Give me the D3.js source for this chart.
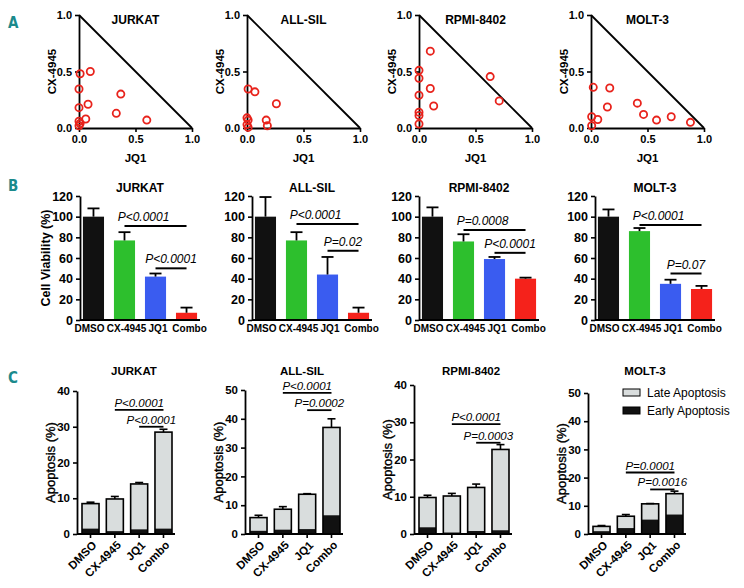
<!DOCTYPE html>
<html><head><meta charset="utf-8">
<script src="https://cdn.jsdelivr.net/npm/d3@7"></script>
<style>body{margin:0;background:#fff}</style>
</head><body><svg id="c" width="744" height="588"></svg>
<script>
// ---------------- DATA ----------------
const cellLines = ["JURKAT", "ALL-SIL", "RPMI-8402", "MOLT-3"];
const treatments = ["DMSO", "CX-4945", "JQ1", "Combo"];

// Panel A: normalized isobologram points [JQ1, CX-4945]
const jurkatIso = [[0.01,0.48],[0.10,0.50],[0.0,0.345],[0.37,0.30],[0.0,0.18],[0.08,0.21],[0.33,0.13],[0.60,0.07],[0.06,0.08],[0.0,0.06],[0.0,0.02],[0.01,0.04]];
const allsilIso = [[0.01,0.345],[0.07,0.32],[0.26,0.215],[0.17,0.07],[0.18,0.02],[0.0,0.09],[0.01,0.07],[0.0,0.03],[0.01,0.005]];
const rpmiIso   = [[0.10,0.68],[0.0,0.51],[0.0,0.44],[0.63,0.455],[0.71,0.24],[0.10,0.35],[0.13,0.195],[0.0,0.29],[0.0,0.14],[0.0,0.11],[0.0,0.035]];
const molt3Iso  = [[0.02,0.36],[0.166,0.354],[0.145,0.186],[0.41,0.22],[0.465,0.12],[0.58,0.07],[0.71,0.10],[0.88,0.05],[0.006,0.10],[0.06,0.075],[0.006,0.02]];
const isoTicks = [0, 0.5, 1.0];

// Panel B: cell viability (%) mean and SD
const jurkatViab = [100, 77, 42, 7];
const jurkatViabErr = [8, 8, 3, 5];
const allsilViab = [100, 77, 44, 7];
const allsilViabErr = [19, 8, 17, 5];
const rpmiViab = [100, 76, 59, 40];
const rpmiViabErr = [9, 7, 2, 1];
const molt3Viab = [100, 86, 35, 30];
const molt3ViabErr = [7, 3, 4, 3];
const viabTicks = [0, 20, 40, 60, 80, 100, 120];
const jurkatViabP = [["CX-4945","Combo","P<0.0001",91],["JQ1","Combo","P<0.0001",50]];
const allsilViabP = [["CX-4945","Combo","P<0.0001",93],["JQ1","Combo","P=0.02",67]];
const rpmiViabP   = [["CX-4945","Combo","P=0.0008",87],["JQ1","Combo","P<0.0001",65]];
const molt3ViabP  = [["CX-4945","Combo","P<0.0001",92],["JQ1","Combo","P=0.07",45]];

// Panel C: apoptosis (%) early, total (early+late), SD of total
const jurkatEarly = [1.5, 0.8, 1.3, 1.5];
const jurkatTotal = [8.5, 9.8, 14.0, 28.5];
const jurkatApoErr = [0.4, 0.7, 0.4, 0.8];
const allsilEarly = [1.1, 1.5, 1.7, 6.5];
const allsilTotal = [5.7, 8.6, 13.8, 37.0];
const allsilApoErr = [0.8, 0.9, 0.2, 3.0];
const rpmiEarly = [1.8, 0.4, 0.8, 1.0];
const rpmiTotal = [9.8, 10.2, 12.5, 22.7];
const rpmiApoErr = [0.6, 0.7, 0.9, 1.3];
const molt3Early = [1.0, 2.1, 5.1, 6.9];
const molt3Total = [2.7, 6.3, 10.7, 14.3];
const molt3ApoErr = [0.3, 0.6, 0.1, 0.9];
const jurkatApoP = [["CX-4945","Combo","P<0.0001",34.7],["JQ1","Combo","P<0.0001",30]];
const allsilApoP = [["CX-4945","Combo","P<0.0001",49],["JQ1","Combo","P=0.0002",43]];
const rpmiApoP   = [["CX-4945","Combo","P<0.0001",29.5],["JQ1","Combo","P=0.0003",24.5]];
const molt3ApoP  = [["CX-4945","Combo","P=0.0001",21.8],["JQ1","Combo","P=0.0016",15.8]];
const apoMax = [40, 50, 40, 50];
const legendLabels = ["Late Apoptosis", "Early Apoptosis"];

// ---------------- DRAW ----------------
const F = '"Liberation Sans", Arial, Helvetica, sans-serif';
const svg = d3.select("#c");
const barColors = ["#111111", "#2dbf2d", "#3a5cf0", "#f5221b"];
const lateColor = "#d9dddd", earlyColor = "#111111";
const bLabelShift = [-4, 2, 2.5, 3];

function styleAxis(g, fs) {
  g.select(".domain").attr("stroke", "#000").attr("stroke-width", 1.8);
  g.selectAll(".tick line").attr("stroke", "#000").attr("stroke-width", 1.6);
  g.selectAll(".tick text").attr("font-family", F).attr("font-weight", "bold")
    .attr("font-size", fs).attr("fill", "#000");
}
function label(txt, x, y, opts = {}) {
  const t = svg.append("text").attr("x", x).attr("y", y).text(txt)
    .attr("font-family", opts.family || F).attr("font-size", opts.size || 12)
    .attr("font-weight", opts.weight || "bold").attr("fill", opts.fill || "#000")
    .attr("text-anchor", opts.anchor || "middle");
  if (opts.italic) t.attr("font-style", "italic");
  if (opts.rotate) t.attr("transform", `rotate(${opts.rotate},${x},${y})`);
  return t;
}
// Panel letters
const letterOpts = { family: '"DejaVu Sans Condensed", "DejaVu Sans", sans-serif', size: 15, fill: "#1b8a8c", anchor: "start" };
label("A", 8, 28, letterOpts);
label("B", 8, 191, letterOpts);
label("C", 8, 383, letterOpts);

// ---- Panel A ----
const isoData = [jurkatIso, allsilIso, rpmiIso, molt3Iso];
const aX0 = [79, 247, 419, 591], aW = 113, aTop = 15, aBot = 128;
isoData.forEach((pts, i) => {
  const x = d3.scaleLinear().domain([0, 1]).range([aX0[i], aX0[i] + aW]);
  const y = d3.scaleLinear().domain([0, 1]).range([aBot, aTop]);
  const g = svg.append("g");
  g.append("line").attr("x1", x(0)).attr("y1", y(1)).attr("x2", x(1)).attr("y2", y(0))
    .attr("stroke", "#000").attr("stroke-width", 1.8);
  const gx = g.append("g").attr("transform", `translate(0,${aBot})`)
    .call(d3.axisBottom(x).tickValues(isoTicks).tickFormat(d3.format(".1f")).tickSize(4).tickSizeOuter(0));
  styleAxis(gx, 11);
  const gy = g.append("g").attr("transform", `translate(${aX0[i]},0)`)
    .call(d3.axisLeft(y).tickValues(isoTicks).tickFormat(d3.format(".1f")).tickSize(4).tickSizeOuter(0));
  styleAxis(gy, 11);
  g.selectAll("circle").data(pts).join("circle")
    .attr("cx", d => x(d[0])).attr("cy", d => y(d[1])).attr("r", 3.6)
    .attr("fill", "none").attr("stroke", "#e8231c").attr("stroke-width", 1.8);
  label(cellLines[i], x(0.5), 24, { size: 12 });
  label("JQ1", x(0.5), 162, { size: 11.5 });
  label("CX-4945", aX0[i] - 23, y(0.5), { size: 11.5, rotate: -90 });
});

// ---- Panel B ----
const viab = [jurkatViab, allsilViab, rpmiViab, molt3Viab];
const viabErr = [jurkatViabErr, allsilViabErr, rpmiViabErr, molt3ViabErr];
const viabP = [jurkatViabP, allsilViabP, rpmiViabP, molt3ViabP];
const bX0 = [80, 252, 419, 595], bTop = 196, bBot = 320;
viab.forEach((vals, i) => {
  const x = d3.scaleBand().domain(treatments).range([bX0[i] + 2, bX0[i] + 118]).paddingInner(0.32).paddingOuter(0.03);
  const y = d3.scaleLinear().domain([0, 120]).range([bBot, bTop]);
  const g = svg.append("g");
  const rows = treatments.map((t, j) => ({ t, v: vals[j], e: viabErr[i][j], c: barColors[j] }));
  g.selectAll("rect").data(rows).join("rect")
    .attr("x", d => x(d.t)).attr("width", x.bandwidth())
    .attr("y", d => y(d.v)).attr("height", d => y(0) - y(d.v)).attr("fill", d => d.c);
  const cap = 6;
  rows.forEach(d => {
    const cx = x(d.t) + x.bandwidth() / 2;
    g.append("line").attr("x1", cx).attr("x2", cx).attr("y1", y(d.v)).attr("y2", y(d.v + d.e)).attr("stroke", "#000").attr("stroke-width", 1.8);
    g.append("line").attr("x1", cx - cap).attr("x2", cx + cap).attr("y1", y(d.v + d.e)).attr("y2", y(d.v + d.e)).attr("stroke", "#000").attr("stroke-width", 1.8);
  });
  const gy = g.append("g").attr("transform", `translate(${bX0[i]},0)`)
    .call(d3.axisLeft(y).tickValues(viabTicks).tickSize(4).tickSizeOuter(0));
  styleAxis(gy, 12.5);
  const gx = g.append("g").attr("transform", `translate(0,${bBot})`)
    .call(d3.axisBottom(x).tickSize(0).tickSizeOuter(0).tickPadding(5));
  gx.select(".domain").attr("d", `M${bX0[i]},0H${bX0[i] + 120}`);
  styleAxis(gx, 10);
  gx.selectAll(".tick text").attr("x", (d, j) => bLabelShift[j]);
  viabP[i].forEach((p, k) => {
    const x1 = x(p[0]) + x.bandwidth() / 2, x2 = x(p[1]) + x.bandwidth() / 2;
    g.append("line").attr("x1", x1).attr("x2", x2).attr("y1", y(p[3])).attr("y2", y(p[3])).attr("stroke", "#000").attr("stroke-width", 2);
    const tx = (x1 + x2) / 2 - (k === 0 ? 12 : 0);
    label(p[2], tx, y(p[3]) - 5, { size: 12, weight: "normal", italic: true });
  });
  label(cellLines[i], x.range()[0] + 58, 192, { size: 12 });
});
label("Cell Viability (%)", 50, (bTop + bBot) / 2, { size: 12.5, rotate: -90 });

// ---- Panel C ----
const early = [jurkatEarly, allsilEarly, rpmiEarly, molt3Early];
const total = [jurkatTotal, allsilTotal, rpmiTotal, molt3Total];
const apoErr = [jurkatApoErr, allsilApoErr, rpmiApoErr, molt3ApoErr];
const apoP = [jurkatApoP, allsilApoP, rpmiApoP, molt3ApoP];
const cX0 = [77, 245, 414, 588], cBot = 534, cTop = [391, 390, 385, 393];
early.forEach((ev, i) => {
  const x = d3.scaleBand().domain(treatments).range([cX0[i] + 5, cX0[i] + 95]).paddingInner(0.3).paddingOuter(0);
  const y = d3.scaleLinear().domain([0, apoMax[i]]).range([cBot, cTop[i]]);
  const g = svg.append("g");
  const rows = treatments.map((t, j) => ({ t, e: ev[j], tot: total[i][j], err: apoErr[i][j] }));
  g.selectAll("rect.late").data(rows).join("rect").attr("class", "late")
    .attr("x", d => x(d.t)).attr("width", x.bandwidth())
    .attr("y", d => y(d.tot)).attr("height", d => y(0) - y(d.tot))
    .attr("fill", lateColor);
  g.selectAll("rect.early").data(rows).join("rect").attr("class", "early")
    .attr("x", d => x(d.t)).attr("width", x.bandwidth())
    .attr("y", d => y(d.e)).attr("height", d => y(0) - y(d.e))
    .attr("fill", earlyColor);
  g.selectAll("rect.outline").data(rows).join("rect").attr("class", "outline")
    .attr("x", d => x(d.t)).attr("width", x.bandwidth())
    .attr("y", d => y(d.tot)).attr("height", d => y(0) - y(d.tot))
    .attr("fill", "none").attr("stroke", "#000").attr("stroke-width", 1.6);
  const cap = 4;
  rows.forEach(d => {
    const cx = x(d.t) + x.bandwidth() / 2;
    g.append("line").attr("x1", cx).attr("x2", cx).attr("y1", y(d.tot)).attr("y2", y(d.tot + d.err)).attr("stroke", "#000").attr("stroke-width", 1.6);
    g.append("line").attr("x1", cx - cap).attr("x2", cx + cap).attr("y1", y(d.tot + d.err)).attr("y2", y(d.tot + d.err)).attr("stroke", "#000").attr("stroke-width", 1.6);
  });
  const gy = g.append("g").attr("transform", `translate(${cX0[i]},0)`)
    .call(d3.axisLeft(y).ticks(apoMax[i] / 10).tickSize(4).tickSizeOuter(0));
  styleAxis(gy, 11.5);
  const gx = g.append("g").attr("transform", `translate(0,${cBot})`)
    .call(d3.axisBottom(x).tickSize(4).tickSizeOuter(0));
  gx.select(".domain").attr("d", `M${cX0[i]},0H${cX0[i] + 98}`);
  styleAxis(gx, 11.5);
  gx.selectAll(".tick text").attr("text-anchor", "end").attr("x", 0).attr("y", 0)
    .attr("dy", "0.35em").attr("transform", "translate(4,9) rotate(-45)");
  apoP[i].forEach(p => {
    const x1 = x(p[0]) + x.bandwidth() / 2, x2 = x(p[1]) + x.bandwidth() / 2;
    g.append("line").attr("x1", x1).attr("x2", x2).attr("y1", y(p[3])).attr("y2", y(p[3])).attr("stroke", "#000").attr("stroke-width", 1.8);
    label(p[2], (x1 + x2) / 2, y(p[3]) - 3, { size: 11.5, weight: "normal", italic: true });
  });
  label(cellLines[i], cX0[i] + 57, 375, { size: 11.5 });
  label("Apoptosis (%)", cX0[i] - 22, (cBot + cTop[i]) / 2, { size: 13, weight: "normal", rotate: -90 })
    .attr("stroke", "#000").attr("stroke-width", 0.35);
});
// legend (MOLT-3)
const lg = svg.append("g");
[lateColor, earlyColor].forEach((c, k) => {
  lg.append("rect").attr("x", 623).attr("y", 389 + k * 18).attr("width", 17).attr("height", 7)
    .attr("fill", c).attr("stroke", "#000").attr("stroke-width", 1);
  label(legendLabels[k], 647, 397 + k * 18, { size: 12, weight: "normal", anchor: "start" });
});
</script></body></html>
